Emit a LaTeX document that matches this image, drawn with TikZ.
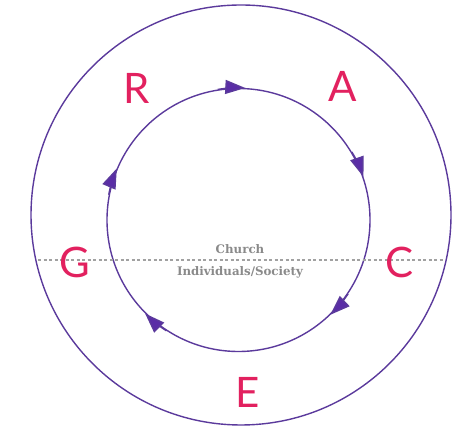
\documentclass[tikz,border=0pt]{standalone}
\usepackage{fontspec}
\setmainfont{DejaVu Serif}
\newfontfamily\lettersfont{Lato}
\usetikzlibrary{arrows.meta}
\definecolor{ringpurple}{HTML}{5B3A9C}
\definecolor{tippurple}{HTML}{5A2DA6}
\definecolor{gracepink}{HTML}{E2215F}
\definecolor{labelgray}{HTML}{8A8A8A}
\tikzset{
  ring/.style={draw=ringpurple, line width=1.4pt, circle, inner sep=0pt},
  letter/.style={text=gracepink, font=\lettersfont\fontsize{42}{42}\selectfont, inner sep=0pt},
  sidelabel/.style={text=labelgray, font=\bfseries\fontsize{11.8}{13}\selectfont, inner sep=0pt},
  flow/.style={draw=ringpurple, line width=1.4pt, -{Triangle[length=20pt,width=14pt,fill=tippurple]}},
  divider/.style={draw=labelgray!80, line width=1.2pt, dash pattern=on 3pt off 2.5pt}
}
\begin{document}
\begin{tikzpicture}[x=1pt,y=1pt]
\useasboundingbox (0,0) rectangle (458,430);
\node[ring, minimum size=420pt] (outer) at (241,215) {};
\node[ring, minimum size=263pt] (inner) at (238.5,210) {};
\coordinate (dl) at (38,170);
\coordinate (dr) at (443,170);
\draw[divider] (dl) -- (dr);
\node[sidelabel] (church) at (240,181) {Church};
\node[sidelabel] (indiv) at (240,158) {Individuals/Society};
\node[letter] (R) at (137,342) {R};
\node[letter] (A) at (343,344) {A};
\node[letter] (G) at (75,168) {G};
\node[letter] (C) at (400,168) {C};
\node[letter] (E) at (248,38) {E};
\foreach \a in {87,19,-46.5,-135,157}{
  \draw[flow] (inner.\a+12) arc (\a+12:\a:131.5pt);
}
\end{tikzpicture}
\end{document}
